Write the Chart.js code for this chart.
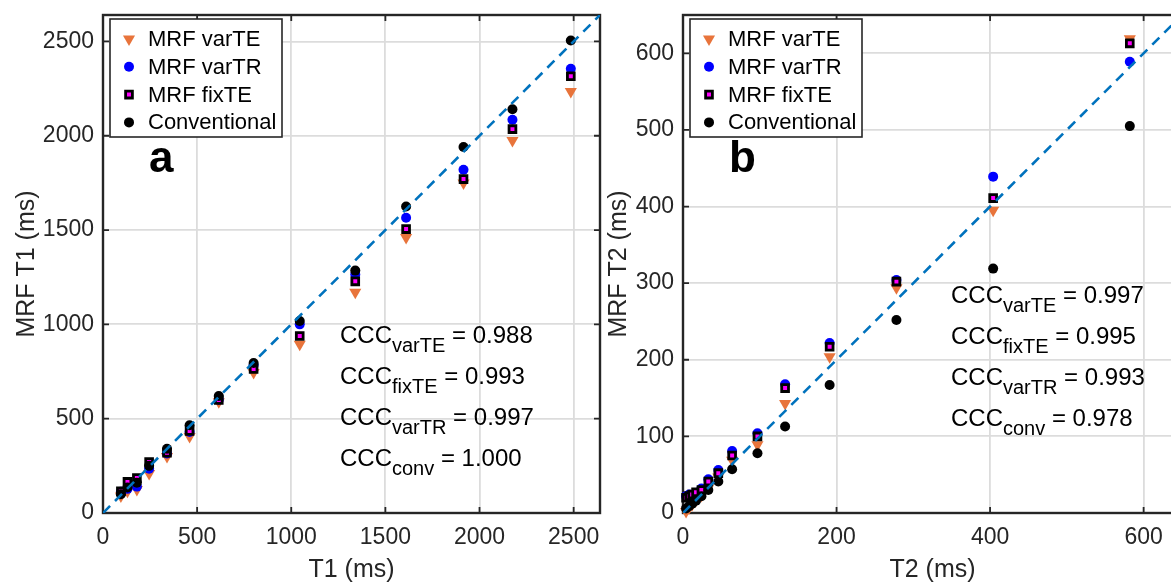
<!DOCTYPE html>
<html>
<head>
<meta charset="utf-8">
<script src="https://cdn.jsdelivr.net/npm/chart.js@4/dist/chart.umd.min.js"></script>
<style>
  html, body { margin: 0; padding: 0; background: #fff; overflow: hidden; width: 1171px; height: 585px; }
  #left { position: absolute; left: 0; top: 0; width: 612px; height: 585px; }
  #right { position: absolute; left: 600px; top: 0; width: 600px; height: 585px; }
</style>
</head>
<body>
<div id="left"><canvas id="c1"></canvas></div>
<div id="right"><canvas id="c2"></canvas></div>
<script>
// series names, same order for both panels
const seriesNames = ['MRF varTE', 'MRF varTR', 'MRF fixTE', 'Conventional'];

// panel a: T1 (ms), reference vs measured
const t1Ref    = [95, 130, 180, 245, 340, 460, 615, 800, 1045, 1340, 1610, 1915, 2175, 2485];
const t1VarTE  = [90, 115, 125, 210, 300, 405, 590, 745, 895, 1170, 1460, 1750, 1975, 2235];
const t1VarTR  = [112, 128, 140, 235, 315, 430, 600, 785, 1000, 1265, 1565, 1820, 2085, 2355];
const t1FixTE  = [115, 165, 185, 270, 320, 435, 599, 763, 938, 1228, 1505, 1770, 2035, 2315];
const t1Conv   = [100, 135, 160, 250, 340, 465, 620, 795, 1018, 1285, 1625, 1940, 2140, 2505];
const t1Ticks  = [0, 500, 1000, 1500, 2000, 2500];
const t1Limit  = 2640;
const t1Ccc    = [['varTE', '0.988'], ['fixTE', '0.993'], ['varTR', '0.997'], ['conv', '1.000']];

// panel b: T2 (ms)
const t2Ref    = [4, 8, 12, 17, 24, 33, 46, 64, 97, 133, 191, 278, 404, 582];
const t2VarTE  = [2, 7, 11, 17, 23, 33, 47, 69, 89, 143, 204, 294, 395, 619];
const t2VarTR  = [22, 24, 23, 26, 32, 44, 56, 81, 104, 168, 222, 304, 439, 589];
const t2FixTE  = [20, 22, 24, 27, 30, 41, 52, 75, 100, 163, 217, 302, 411, 613];
const t2Conv   = [6, 9, 12, 16, 22, 30, 41, 57, 78, 113, 167, 252, 319, 505];
const t2Ticks  = [0, 200, 400, 600];
const t2YTicks = [0, 100, 200, 300, 400, 500, 600];
const t2Limit  = 650;
const t2Ccc    = [['varTE', '0.997'], ['fixTE', '0.995'], ['varTR', '0.993'], ['conv', '0.978']];

const FONT = "'Liberation Sans', Arial, sans-serif";
const AXIS = '#262626';

function pts(xs, ys) { return xs.map((v, i) => ({ x: v, y: ys[i] })); }

function markerSets(ref, varTE, varTR, fixTE, conv) {
  return [
    { label: seriesNames[0], data: pts(ref, varTE), pointStyle: 'triangle', rotation: 180, pointRadius: 7,
      backgroundColor: '#E8743B', borderColor: '#E8743B', borderWidth: 0, order: 4, clip: false },
    { label: seriesNames[1], data: pts(ref, varTR), pointStyle: 'circle', pointRadius: 5,
      backgroundColor: '#0000FF', borderColor: '#0000FF', borderWidth: 0, order: 3, clip: false },
    { label: seriesNames[2], data: pts(ref, fixTE), pointStyle: 'rect', pointRadius: 4.8,
      backgroundColor: '#FF00FF', borderColor: '#000000', borderWidth: 2.8, order: 2, clip: false },
    { label: seriesNames[3], data: pts(ref, conv), pointStyle: 'circle', pointRadius: 5,
      backgroundColor: '#000000', borderColor: '#000000', borderWidth: 0, order: 1, clip: false }
  ];
}

function drawMarker(ctx, ds, x, y) {
  ctx.fillStyle = ds.backgroundColor;
  ctx.strokeStyle = ds.borderColor;
  ctx.lineWidth = ds.borderWidth;
  Chart.helpers.drawPoint(ctx, {
    pointStyle: ds.pointStyle, rotation: ds.rotation || 0,
    radius: ds.pointRadius, borderWidth: ds.borderWidth
  }, x, y);
}

const panelDecor = {
  id: 'panelDecor',
  beforeDatasetsDraw(chart) {
    const { ctx, chartArea: a, scales: { x, y } } = chart;
    ctx.save();
    ctx.strokeStyle = AXIS;
    ctx.lineWidth = 1.8;
    ctx.beginPath();
    x.ticks.forEach(t => {
      const p = x.getPixelForValue(t.value);
      ctx.moveTo(p, a.bottom); ctx.lineTo(p, a.bottom - 6);
      ctx.moveTo(p, a.top); ctx.lineTo(p, a.top + 6);
    });
    y.ticks.forEach(t => {
      const p = y.getPixelForValue(t.value);
      ctx.moveTo(a.left, p); ctx.lineTo(a.left + 6, p);
      ctx.moveTo(a.right, p); ctx.lineTo(a.right - 6, p);
    });
    ctx.stroke();
    ctx.lineWidth = 2.4;
    ctx.strokeRect(a.left, a.top, a.right - a.left, a.bottom - a.top);
    ctx.restore();
  },
  afterDraw(chart, args, opts) {
    const { ctx, chartArea: a } = chart;
    ctx.save();
    // legend box
    const bx = a.left + 7, by = a.top + 4, bw = 172, bh = 118;
    ctx.fillStyle = '#fff';
    ctx.fillRect(bx, by, bw, bh);
    ctx.strokeStyle = AXIS;
    ctx.lineWidth = 1.6;
    ctx.strokeRect(bx, by, bw, bh);
    ctx.font = '22px ' + FONT;
    ctx.textBaseline = 'middle';
    chart.data.datasets.filter(d => d.label).forEach((ds, i) => {
      const ry = by + 20 + i * 27.8;
      drawMarker(ctx, ds, bx + 19, ry);
      ctx.fillStyle = '#000';
      ctx.fillText(ds.label, bx + 38, ry + 1);
    });
    // panel letter
    ctx.textBaseline = 'alphabetic';
    ctx.fillStyle = '#000';
    ctx.font = 'bold 44px ' + FONT;
    ctx.fillText(opts.letter, a.left + 46, a.top + 157);
    // CCC text
    opts.ccc.forEach((c, i) => {
      let tx = a.left + opts.cccX;
      const ty = a.top + opts.cccY + i * 41;
      ctx.font = '24px ' + FONT;
      ctx.fillText('CCC', tx, ty);
      tx += ctx.measureText('CCC').width;
      ctx.font = '20px ' + FONT;
      ctx.fillText(c[0], tx, ty + 9);
      tx += ctx.measureText(c[0]).width;
      ctx.font = '24px ' + FONT;
      ctx.fillText(' = ' + c[1], tx, ty);
    });
    ctx.restore();
  }
};

function axis(title, ticks, limit, horizontal, titlePad, size) {
  return {
    type: 'linear', min: 0, max: limit,
    afterBuildTicks: s => { s.ticks = ticks.map(v => ({ value: v })); },
    afterFit: s => {
      if (horizontal) { s.height = size; s.paddingLeft = 0; s.paddingRight = 0; }
      else { s.width = size; s.paddingTop = 0; s.paddingBottom = 0; }
    },
    grid: { color: '#dcdcdc', lineWidth: 1.8, drawTicks: false },
    border: { display: false },
    ticks: {
      autoSkip: false, maxRotation: 0, color: AXIS, padding: horizontal ? 11 : 9,
      font: { family: FONT, size: 23 },
      callback: v => String(v)
    },
    title: {
      display: true, text: title, color: AXIS,
      font: { family: FONT, size: 25, lineHeight: 1 },
      padding: titlePad
    }
  };
}

function makePanel(id, cfg) {
  new Chart(document.getElementById(id), {
    type: 'scatter',
    data: {
      datasets: [
        { type: 'line', label: '', data: [{ x: 0, y: 0 }, { x: cfg.limit, y: cfg.limit }],
          borderColor: '#0072BD', borderWidth: 2.6, borderDash: [10, 7], pointRadius: 0,
          fill: false, order: 0 },
        ...cfg.sets
      ]
    },
    options: {
      responsive: true, maintainAspectRatio: false, animation: false,
      layout: { padding: cfg.padding },
      plugins: {
        legend: { display: false }, tooltip: { enabled: false },
        panelDecor: { letter: cfg.letter, ccc: cfg.ccc, cccX: cfg.cccX, cccY: cfg.cccY }
      },
      scales: {
        x: axis(cfg.xTitle, cfg.xTicks, cfg.limit, true, { top: 0, bottom: 2 }, 72),
        y: axis(cfg.yTitle, cfg.yTicks, cfg.limit, false, { top: cfg.yTitlePad, bottom: 0 }, cfg.yWidth)
      }
    },
    plugins: [panelDecor]
  });
}

makePanel('c1', {
  sets: markerSets(t1Ref, t1VarTE, t1VarTR, t1FixTE, t1Conv),
  limit: t1Limit, xTicks: t1Ticks, yTicks: t1Ticks,
  xTitle: 'T1 (ms)', yTitle: 'MRF T1 (ms)', yTitlePad: 15, yWidth: 103,
  padding: { left: 0, top: 15, right: 12, bottom: 0 },
  letter: 'a', ccc: t1Ccc, cccX: 237, cccY: 328
});

makePanel('c2', {
  sets: markerSets(t2Ref, t2VarTE, t2VarTR, t2FixTE, t2Conv),
  limit: t2Limit, xTicks: t2Ticks, yTicks: t2YTicks,
  xTitle: 'T2 (ms)', yTitle: 'MRF T2 (ms)', yTitlePad: 7, yWidth: 83,
  padding: { left: 0, top: 15, right: 18, bottom: 0 },
  letter: 'b', ccc: t2Ccc, cccX: 268, cccY: 288
});
</script>
</body>
</html>
